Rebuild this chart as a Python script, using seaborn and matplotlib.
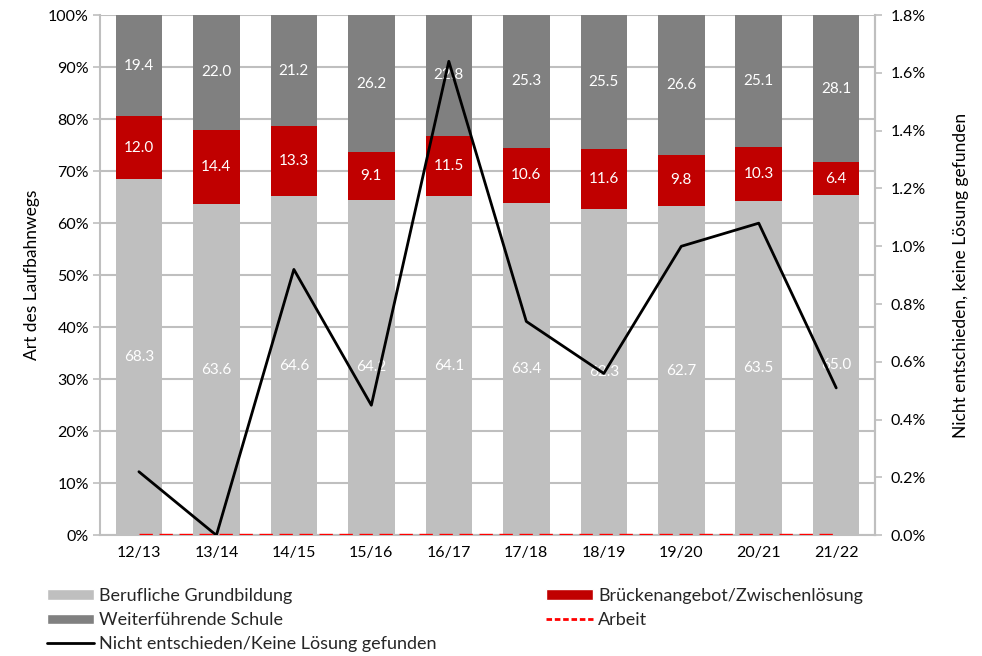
import numpy as np
import pandas as pd
import matplotlib
matplotlib.use("Agg")
import matplotlib.pyplot as plt
import seaborn as sns
from matplotlib.patches import Patch
from matplotlib.lines import Line2D
from matplotlib.ticker import FuncFormatter

years = ["12/13", "13/14", "14/15", "15/16", "16/17", "17/18", "18/19", "19/20", "20/21", "21/22"]
grundbildung = [68.3, 63.6, 64.6, 64.2, 64.1, 63.4, 62.3, 62.7, 63.5, 65.0]
brueckenangebot = [12.0, 14.4, 13.3, 9.1, 11.5, 10.6, 11.6, 9.8, 10.3, 6.4]
weiterfuehrend = [19.4, 22.0, 21.2, 26.2, 22.8, 25.3, 25.5, 26.6, 25.1, 28.1]
nicht_entschieden = [0.22, 0.0, 0.92, 0.45, 1.64, 0.74, 0.56, 1.00, 1.08, 0.51]
arbeit = [0.0] * 10

sns.set_theme(style="white")
plt.rcParams["font.family"] = ["Lato", "DejaVu Sans"]

C_LIGHT = "#bfbfbf"
C_RED = "#c00000"
C_DARK = "#808080"
GRID = "#bfbfbf"

df = pd.DataFrame({
    "year": years,
    "g": grundbildung,
    "b": brueckenangebot,
    "w": weiterfuehrend,
})
# 100% stacked: share of each segment in the three categories
tot = df["g"] + df["b"] + df["w"]
df["g_pct"] = df["g"] / tot * 100
df["gb_pct"] = (df["g"] + df["b"]) / tot * 100
df["total_pct"] = 100.0 * tot / tot

fig = plt.figure(figsize=(9.82, 6.56), dpi=100)
ax = fig.add_axes([0.102, 0.184, 0.789, 0.793])

ax.set_axisbelow(True)
ax.yaxis.grid(True, color=GRID, linewidth=1.5)

kw = dict(data=df, x="year", width=0.6, ax=ax, saturation=1, edgecolor="none", linewidth=0, zorder=2)
sns.barplot(y="total_pct", color=C_DARK, **kw)
sns.barplot(y="gb_pct", color=C_RED, **kw)
sns.barplot(y="g_pct", color=C_LIGHT, **kw)

x = np.arange(len(years))
for i in range(len(years)):
    g0 = df["g_pct"][i]; gb = df["gb_pct"][i]
    ax.text(i, g0 / 2, f"{grundbildung[i]:.1f}", ha="center", va="center", color="white", fontsize=11, zorder=3)
    ax.text(i, (g0 + gb) / 2, f"{brueckenangebot[i]:.1f}", ha="center", va="center", color="white", fontsize=11, zorder=3)
    ax.text(i, (gb + 100) / 2, f"{weiterfuehrend[i]:.1f}", ha="center", va="center", color="white", fontsize=11, zorder=3)

ax.set_ylim(0, 100)
ax.set_xlim(-0.5, len(years) - 0.5)
ax.set_yticks(np.arange(0, 101, 10))
ax.yaxis.set_major_formatter(FuncFormatter(lambda v, p: f"{v:.0f}%"))
ax.set_xlabel("")
ax.set_ylabel("Art des Laufbahnwegs", fontsize=12.5, color="black", labelpad=6)
ax.set_xticks(x)
ax.set_xticklabels(years)
ax.set_xticks(np.arange(-0.5, len(years), 1), minor=True)
ax.tick_params(axis="x", which="major", length=0, labelsize=11.5, pad=8, colors="black")
ax.tick_params(axis="x", which="minor", length=5, width=1.2, color=GRID, direction="out")
ax.tick_params(axis="y", length=5, width=1.2, labelsize=11.5, pad=3, colors="black", direction="out")
ax.tick_params(axis="y", color=GRID)
ax.spines["top"].set_visible(False)
for side in ["left", "bottom", "right"]:
    ax.spines[side].set_visible(True)
    ax.spines[side].set_color(GRID)
    ax.spines[side].set_linewidth(1.5)

ax2 = ax.twinx()
line_df = pd.DataFrame({"x": x, "ne": nicht_entschieden, "arbeit": arbeit})
sns.lineplot(data=line_df, x="x", y="ne", color="black", linewidth=2, ax=ax2, zorder=5)
sns.lineplot(data=line_df, x="x", y="arbeit", color="#ff0000", linewidth=2.4, linestyle=(0, (4, 2)), ax=ax2, zorder=5)
ax2.set_ylim(0, 1.8)
ax2.set_yticks(np.arange(0, 1.81, 0.2))
ax2.yaxis.set_major_formatter(FuncFormatter(lambda v, p: f"{v:.1f}%"))
ax2.set_xlabel("")
ax2.set_ylabel("Nicht entschieden, keine Lösung gefunden", fontsize=12.5, color="black", labelpad=20)
ax2.tick_params(axis="y", length=5, width=1.2, labelsize=11.5, pad=6, colors="black", direction="out")
ax2.tick_params(axis="y", color=GRID)
for side in ["top", "left", "bottom"]:
    ax2.spines[side].set_visible(False)
ax2.spines["right"].set_color(GRID)
ax2.spines["right"].set_linewidth(1.5)
ax2.set_xlim(-0.5, len(years) - 0.5)

leg_kw = dict(loc="upper left", frameon=False, fontsize=13, handlelength=2.6, handleheight=0.5,
              handletextpad=0.3, labelspacing=0.45, borderaxespad=0, borderpad=0)
handles_left = [
    Patch(facecolor=C_LIGHT, label="Berufliche Grundbildung"),
    Patch(facecolor=C_DARK, label="Weiterführende Schule"),
    Line2D([0], [0], color="black", linewidth=2, label="Nicht entschieden/Keine Lösung gefunden"),
]
handles_right = [
    Patch(facecolor=C_RED, label="Brückenangebot/Zwischenlösung"),
    Line2D([0], [0], color="#ff0000", linewidth=2, linestyle=(0, (2, 1)), label="Arbeit"),
]
fig.legend(handles=handles_left, bbox_to_anchor=(47 / 982, 1 - 588 / 656), **leg_kw)
fig.legend(handles=handles_right, bbox_to_anchor=(546 / 982, 1 - 588 / 656), **leg_kw)

fig.savefig("out.png", dpi=100)
